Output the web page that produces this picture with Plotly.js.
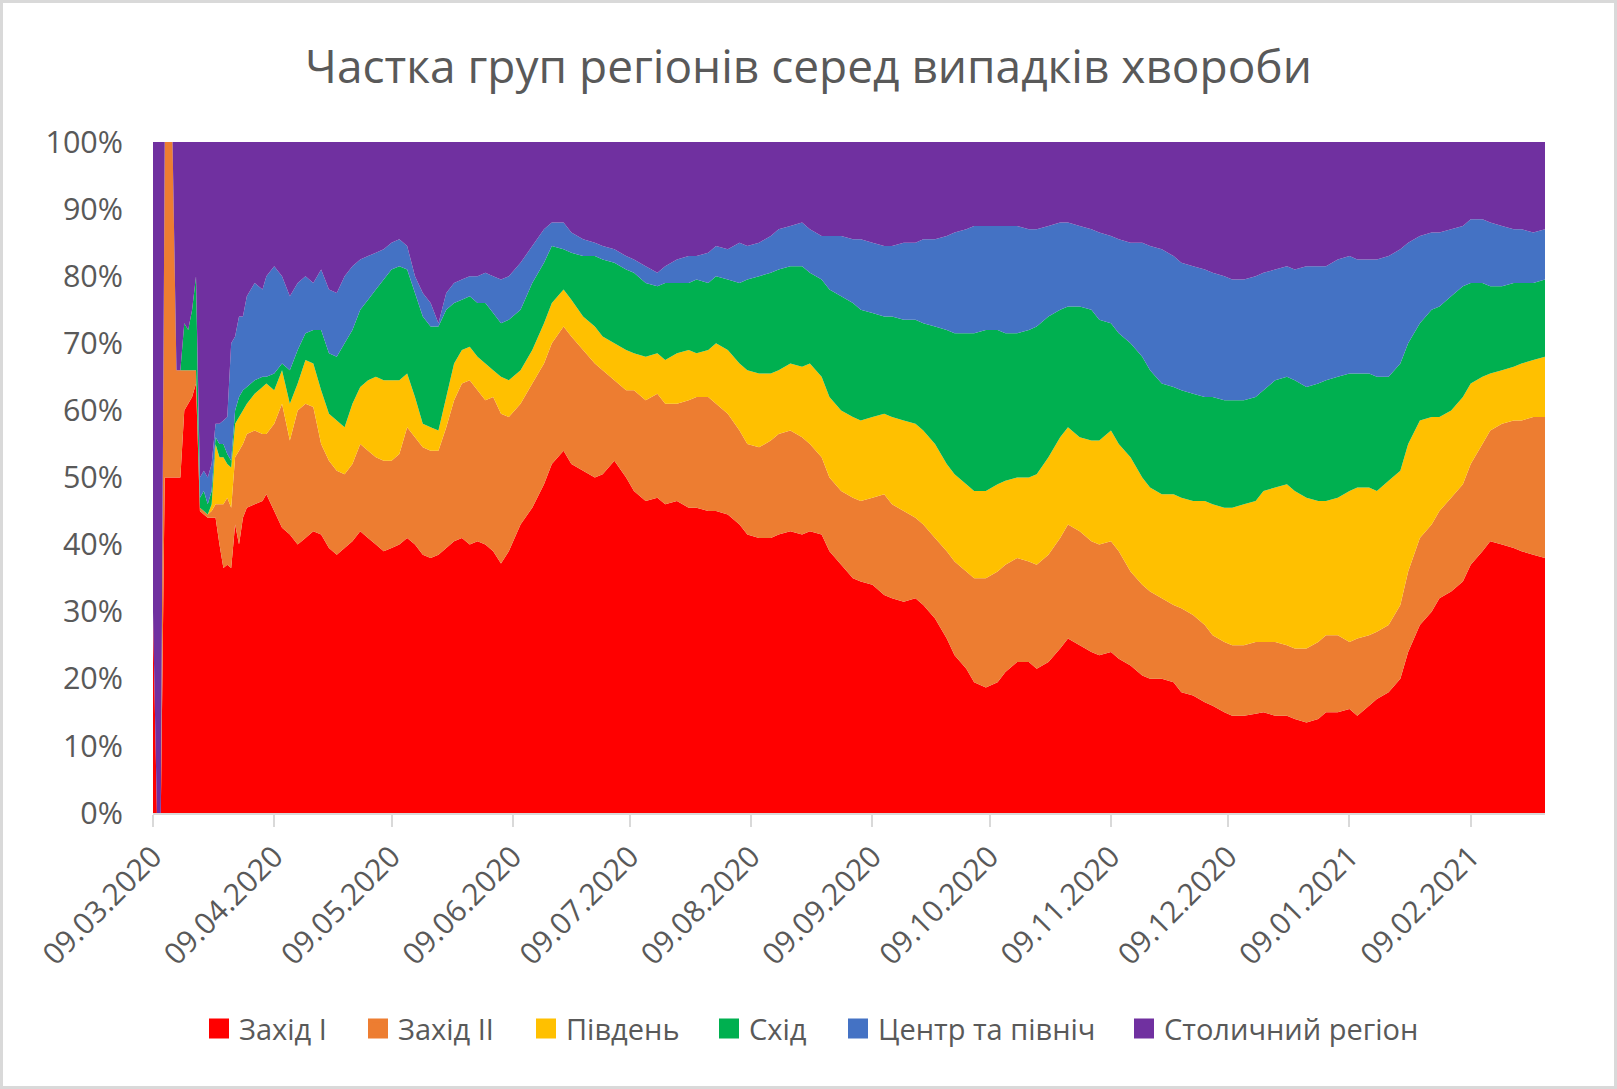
<!DOCTYPE html>
<html>
<head>
<meta charset="utf-8">
<script src="https://cdn.plot.ly/plotly-3.0.1.min.js"></script>
<style>
  body { margin: 0; background: #ffffff; }
  #chart { width: 1611px; height: 1083px; border: 3px solid #d9d9d9; }
</style>
</head>
<body>
<div id="chart"></div>
<script>
// days since 09.03.2020
let days = [0, 1, 2, 3, 5, 6, 7, 8, 9, 10, 11, 12, 13, 14, 15, 16, 17, 18, 19, 20, 21, 22, 23, 24,
    26, 28, 29, 31, 33, 35, 37, 39, 41, 43, 45, 47, 49, 51, 53, 55, 57, 59, 61, 63, 65, 67, 69, 71,
    73, 75, 77, 79, 81, 83, 85, 87, 89, 91,
    94, 97, 100, 102, 105, 107, 110, 113, 115, 118, 121, 123, 126, 129, 131, 134, 137, 139, 142, 144,
    147, 150, 152, 155, 158, 160, 163, 166, 168, 171, 173, 176, 179, 181, 184, 187, 189, 192, 195, 197,
    200, 203, 205, 208, 210, 213, 216, 218, 221, 224, 226, 229, 232, 234, 237, 240, 242, 245, 247, 250,
    253, 255, 258, 261, 263, 266, 269, 271, 274, 276, 279, 282, 284, 287, 290, 292, 295, 298, 300, 303,
    306, 308, 311, 313, 316, 319, 321, 324, 327, 329, 332, 335, 337, 340, 342, 345, 348, 350, 353, 356];

// cumulative level (%) of the top edge of each band
let zakhid1Top = [30, 0, 0, 50, 50, 50, 50, 60, 61, 62, 64, 45, 44.5, 44, 44, 44, 40, 36.5, 37, 36.5, 43, 40, 44, 45.5,
    46, 46.5, 47.5, 45, 42.5, 41.5, 40, 41, 42, 41.5, 39.5, 38.5, 39.5, 40.5, 42, 41, 40, 39, 39.5, 40, 41, 40, 38.5, 38,
    38.5, 39.5, 40.5, 41, 40, 40.5, 40, 39, 37.2, 39,
    43, 45.5, 49, 52, 54, 52, 51, 50, 50.5, 52.5, 50, 48, 46.5, 47, 46, 46.5, 45.5, 45.5, 45, 45,
    44.5, 43, 41.5, 41, 41, 41.5, 42, 41.5, 42, 41.5, 39, 37, 35, 34.5, 34, 32.5, 32, 31.5, 32, 31,
    29, 26, 23.5, 21.5, 19.5, 18.7, 19.5, 21, 22.5, 22.5, 21.5, 22.5, 24.5, 26, 25, 24, 23.5, 24, 23, 22,
    20.5, 20, 20, 19.5, 18, 17.5, 16.5, 16, 15, 14.5, 14.5, 14.8, 15, 14.5, 14.5, 14, 13.5, 14, 15, 15,
    15.5, 14.5, 16, 17, 18, 20, 24, 28, 30, 32, 33, 34.5, 37, 39, 40.5, 40, 39.5, 39, 38.5, 38];

let zakhid2Top = [30, 0, 0, 100, 100, 66, 66, 66, 66, 66, 66, 45.5, 45, 44.5, 45, 46, 46, 46, 47, 45.5, 53, 54, 55, 56.5,
    57, 56.5, 56.5, 58, 61, 55.5, 60, 61, 60.5, 55, 52.5, 51, 50.5, 52, 55, 54, 53, 52.5, 52.5, 53.5, 57.5, 56, 54.5, 54,
    54, 57.5, 61.5, 64, 64.5, 63, 61.5, 62, 59.5, 59,
    61, 64, 67, 70, 72.5, 71, 69, 67, 66, 64.5, 63, 63, 61.5, 62.5, 61, 61, 61.5, 62, 62, 61,
    59.5, 57, 55, 54.5, 55.5, 56.5, 57, 56, 55, 53, 50, 48, 47, 46.5, 47, 47.5, 46, 45, 44, 43,
    41, 39, 37.5, 36, 35, 35, 36, 37, 38, 37.5, 37, 38.5, 41, 43, 42, 40.5, 40, 40.5, 39, 36,
    34, 33, 32, 31, 30.5, 29.5, 28, 26.5, 25.5, 25, 25, 25.5, 25.5, 25.5, 25, 24.5, 24.5, 25.5, 26.5, 26.5,
    25.5, 26, 26.5, 27, 28, 31, 36, 41, 43, 45, 47, 49, 52, 55, 57, 58, 58.5, 58.5, 59, 59];

let pivdenTop = [30, 0, 0, 100, 100, 66, 66, 66, 66, 66, 66, 45.5, 45, 44.5, 46, 55, 53, 53, 52, 51.5, 58, 59, 60, 61,
    62.5, 63.5, 64, 63, 66, 61, 64, 67.5, 67, 63, 59.5, 58.5, 57.5, 61, 63.5, 64.5, 65, 64.5, 64.5, 64.5, 65.5, 62, 58, 57.5,
    57, 62, 67, 69, 69.5, 68, 67, 66, 65, 64.5,
    66, 69, 73, 76, 78, 76.5, 74, 72.5, 71, 70, 69, 68.5, 68, 68.5, 67.5, 68.5, 69, 68.5, 69, 70,
    69, 67, 66, 65.5, 65.5, 66, 67, 66.5, 67, 65, 62, 60, 59, 58.5, 59, 59.5, 59, 58.5, 58, 57,
    55, 52, 50.5, 49, 48, 48, 49, 49.5, 50, 50, 50.5, 53, 56, 57.5, 56, 55.5, 55.5, 57, 55, 53,
    50, 48.5, 47.5, 47.5, 47, 46.5, 46.5, 46, 45.5, 45.5, 46, 46.5, 48, 48.5, 49, 48, 47, 46.5, 46.5, 47,
    48, 48.5, 48.5, 48, 49.5, 51, 55, 58.5, 59, 59, 60, 62, 64, 65, 65.5, 66, 66.5, 67, 67.5, 68];

let skhidTop = [30, 0, 0, 100, 100, 66, 66, 73, 72, 75, 80, 47, 48, 46, 48, 56, 55, 55, 53.5, 52.5, 60, 62, 63, 63.5,
    64.5, 65, 65, 65.5, 67, 66, 69, 71.5, 72, 72, 68.5, 68, 70, 72, 75, 76.5, 78, 79.5, 81, 81.5, 81, 77.5, 74, 72.5,
    72.5, 75, 76, 76.5, 77, 76, 76, 74.5, 73, 73.5,
    75, 79, 82, 84.5, 84, 83.5, 83, 83, 82.5, 82, 81, 80.5, 79, 78.5, 79, 79, 79, 79.5, 79, 80,
    79.5, 79, 79.5, 80, 80.5, 81, 81.5, 81.5, 80.5, 79.5, 78, 77, 76, 75, 74.5, 74, 74, 73.5, 73.5, 73,
    72.5, 72, 71.5, 71.5, 71.5, 72, 72, 71.5, 71.5, 72, 72.5, 74, 75, 75.5, 75.5, 75, 73.5, 73, 71.5, 70,
    68, 66, 64, 63.5, 63, 62.5, 62, 62, 61.5, 61.5, 61.5, 62, 63, 64.5, 65, 64.5, 63.5, 64, 64.5, 65,
    65.5, 65.5, 65.5, 65, 65, 67, 70, 73, 75, 75.5, 77, 78.5, 79, 79, 78.5, 78.5, 79, 79, 79, 79.5];

let tsentrTop = [30, 0, 0, 100, 100, 66, 66, 73, 72, 75, 80, 50, 51, 50, 52, 58, 58, 58.5, 59, 70, 71, 74, 74, 77,
    79, 78, 80, 81.5, 80, 77, 79, 80, 79, 81, 78, 77.5, 80, 81.5, 82.5, 83, 83.5, 84, 85, 85.5, 84.5, 80, 77.5, 76,
    73, 77.5, 79, 79.5, 80, 80, 80.5, 80, 79.5, 80,
    82, 84.5, 87, 88, 88, 86.5, 85.5, 85, 84.5, 84, 83, 82.5, 81.5, 80.5, 81.5, 82.5, 83, 83, 83.5, 84.5,
    84, 85, 84.5, 85, 86, 87, 87.5, 88, 87, 86, 86, 86, 85.5, 85.5, 85, 84.5, 84.5, 85, 85, 85.5,
    85.5, 86, 86.5, 87, 87.5, 87.5, 87.5, 87.5, 87.5, 87, 87, 87.5, 88, 88, 87.5, 87, 86.5, 86, 85.5, 85,
    85, 84.5, 84, 83, 82, 81.5, 81, 80.5, 80, 79.5, 79.5, 80, 80.5, 81, 81.5, 81, 81.5, 81.5, 81.5, 82.5,
    83, 82.5, 82.5, 82.5, 83, 84, 85, 86, 86.5, 86.5, 87, 87.5, 88.5, 88.5, 88, 87.5, 87, 87, 86.5, 87];

let names = ["Захід I", "Захід II", "Південь", "Схід", "Центр та північ", "Столичний регіон"];
let colors = ["#ff0000", "#ed7d31", "#ffc000", "#00b050", "#4472c4", "#7030a0"];

let start = Date.UTC(2020, 2, 9);
let dates = days.map(function(d) {
    return new Date(start + d * 86400000).toISOString().slice(0, 10);
});

// band shares = difference between neighbouring levels
let levels = [zakhid1Top, zakhid2Top, pivdenTop, skhidTop, tsentrTop];
let shares = [];
for (let i = 0; i < 6; i++) {
    shares.push(days.map(function(d, k) {
        let top = i < 5 ? levels[i][k] : 100;
        let bottom = i > 0 ? levels[i - 1][k] : 0;
        return Math.max(0, top - bottom);
    }));
}

let data = [];
for (let i = 0; i < 6; i++) {
    let trace = {
        type: "scatter",
        x: dates,
        y: shares[i],
        name: names[i],
        stackgroup: "one",
        mode: "none",
        fillcolor: colors[i],
        line: { width: 0 },
        showlegend: false,
        hoverinfo: "skip"
    };
    if (i == 0) trace.groupnorm = "percent";
    data.push(trace);
}

let font = "Open Sans, sans-serif";
let grey = "#595959";

let layout = {
    width: 1611,
    height: 1083,
    margin: { l: 150, r: 69, t: 139, b: 273 },
    paper_bgcolor: "#ffffff",
    plot_bgcolor: "#ffffff",
    font: { family: font, color: grey, size: 29 },
    title: {
        text: "Частка груп регіонів серед випадків хвороби",
        font: { family: font, size: 46, color: grey },
        xref: "container",
        x: 0.5,
        xanchor: "center",
        yref: "container",
        y: 0.941,
        yanchor: "middle"
    },
    xaxis: {
        type: "date",
        range: ["2020-03-09", "2021-02-28"],
        tick0: "2020-03-09",
        dtick: "M1",
        tickformat: "%d.%m.%Y",
        tickangle: -45,
        ticks: "outside",
        ticklen: 12,
        tickwidth: 2,
        tickcolor: "#d9d9d9",
        showline: true,
        linecolor: "#d9d9d9",
        linewidth: 2,
        showgrid: false,
        zeroline: false,
        tickfont: { family: font, size: 30, color: grey }
    },
    yaxis: {
        range: [0, 100],
        dtick: 10,
        ticksuffix: "%",
        showgrid: false,
        zeroline: false,
        showline: false,
        ticks: "",
        ticklabelstandoff: 29,
        tickfont: { family: font, size: 30.5, color: grey }
    },
    showlegend: true
};

// one small legend per key, so each one sits where the original has it
let keyLeft = [206, 365, 533, 716, 845, 1131];
for (let i = 0; i < 6; i++) {
    let legendName = i == 0 ? "legend" : "legend" + (i + 1);
    layout[legendName] = {
        orientation: "h",
        xref: "container",
        x: (keyLeft[i] - 10) / 1611,
        xanchor: "left",
        yref: "container",
        y: 0.053,
        yanchor: "middle",
        font: { family: font, size: 29, color: grey },
        itemclick: false,
        itemdoubleclick: false,
        bgcolor: "rgba(0,0,0,0)"
    };
    data.push({
        type: "scatter",
        x: [null],
        y: [null],
        name: names[i],
        legend: legendName,
        mode: "markers",
        marker: { symbol: "square", size: 16, color: colors[i], line: { width: 4, color: colors[i] } },
        hoverinfo: "skip"
    });
}

Plotly.newPlot("chart", data, layout, { displayModeBar: false, staticPlot: true });
</script>
</body>
</html>
